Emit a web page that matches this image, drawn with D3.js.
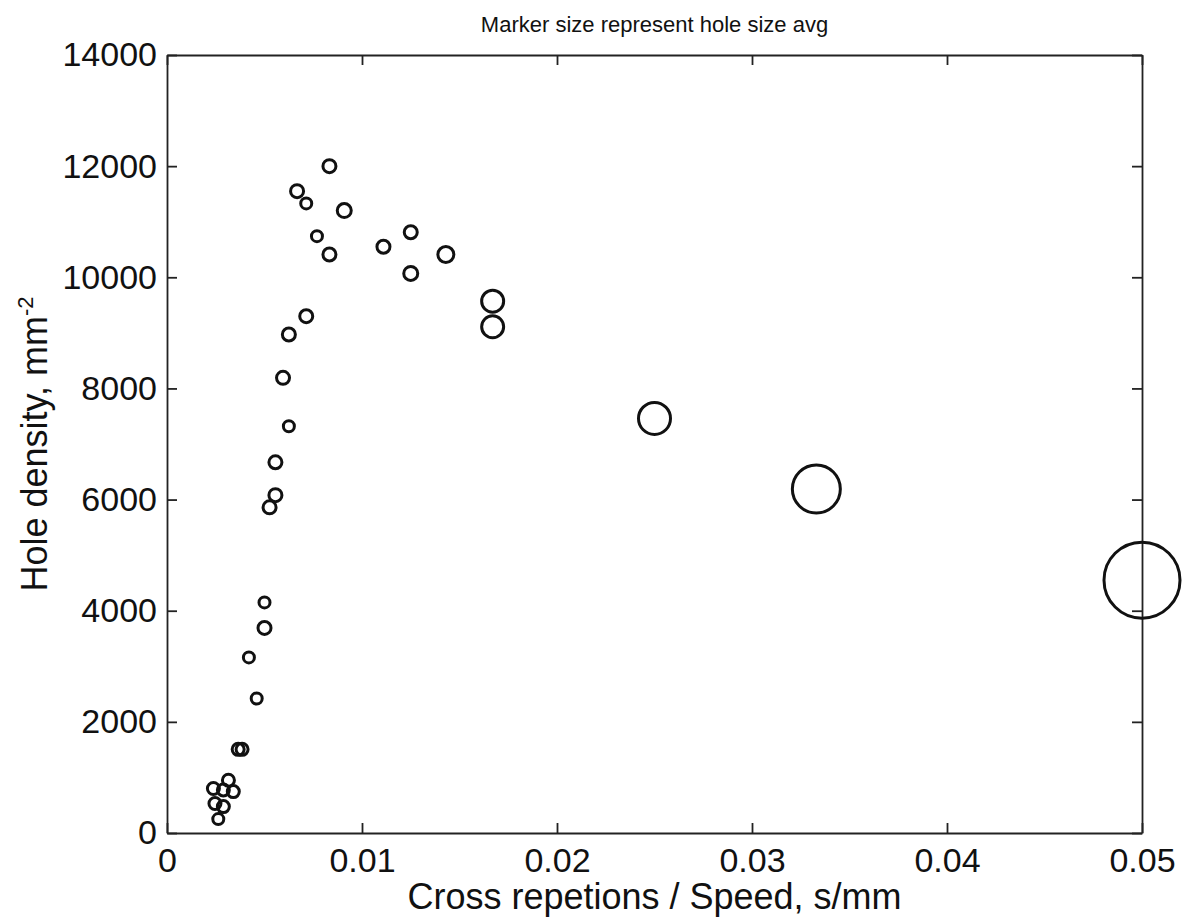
<!DOCTYPE html>
<html>

<head>
  <meta charset="utf8">
  <script src="https://d3js.org/d3.v7.min.js"></script>
  <style>
    body {
      margin: 0;
      background: #fff;
    }

    text {
      font-family: "Liberation Sans", Arial, sans-serif;
      fill: #111;
    }

    .axis path,
    .axis line {
      stroke: #222;
      stroke-width: 1.8;
    }

    .axis text {
      font-size: 34px;
    }

    .dot {
      fill: none;
      stroke: #111;
      stroke-width: 3;
    }
  </style>
</head>

<body>
  <svg id="chart" width="1185" height="919"></svg>
  <script>
    // values
    var crossPerSpeed = [
      0.00263, 0.00246, 0.00289, 0.00238, 0.00289, 0.0034, 0.00315, 0.00365, 0.00385,
      0.0046, 0.0042, 0.005, 0.005, 0.00526, 0.00556, 0.00556, 0.00625, 0.00595,
      0.00625, 0.00714, 0.00833, 0.00769, 0.00909, 0.00714, 0.00667, 0.00833,
      0.0111, 0.0125, 0.0125, 0.0143, 0.0167, 0.0167, 0.025, 0.0333, 0.05
    ];
    var holeDensity = [
      250, 530, 475, 800, 775, 745, 950, 1505, 1505,
      2420, 3160, 3690, 4150, 5860, 6080, 6670, 7320, 8190,
      8970, 9300, 10410, 10740, 11200, 11330, 11550, 12000,
      10550, 10810, 10070, 10410, 9570, 9110, 7460, 6190, 4550
    ];
    var holeSize = [
      11, 12, 12, 12, 12, 12, 12, 12, 12,
      11, 11, 13, 11, 13, 13, 13, 11, 13,
      13, 13, 13, 11, 14, 11, 13, 13,
      13, 13, 14, 16, 22, 22, 32, 48, 76
    ];
    var xTicks = [0, 0.01, 0.02, 0.03, 0.04, 0.05];
    var yTicks = [0, 2000, 4000, 6000, 8000, 10000, 12000, 14000];

    var chart = d3.select('#chart');
    var margin = { top: 55, right: 43, bottom: 86, left: 167 };
    var width = +chart.attr('width') - margin.left - margin.right;
    var height = +chart.attr('height') - margin.top - margin.bottom;

    var x = d3.scaleLinear().domain([0, 0.05]).range([0, width]);
    var y = d3.scaleLinear().domain([0, 14000]).range([height, 0]);
    var r = d3.scaleLinear().domain([0, 76]).range([0, 38]);

    var g = chart.append('g')
      .attr('transform', 'translate(' + margin.left + ',' + margin.top + ')');

    // box with inward ticks on all sides
    g.append('g')
      .attr('class', 'axis')
      .attr('transform', 'translate(0,' + height + ')')
      .call(d3.axisBottom(x).tickValues(xTicks).tickFormat(d3.format('')).tickSizeInner(-10).tickSizeOuter(0).tickPadding(15));

    g.append('g')
      .attr('class', 'axis')
      .call(d3.axisTop(x).tickValues(xTicks).tickFormat('').tickSizeInner(-10).tickSizeOuter(0));

    g.append('g')
      .attr('class', 'axis')
      .call(d3.axisLeft(y).tickValues(yTicks).tickFormat(d3.format('d')).tickSizeInner(-10).tickSizeOuter(0).tickPadding(10));

    g.append('g')
      .attr('class', 'axis')
      .attr('transform', 'translate(' + width + ',0)')
      .call(d3.axisRight(y).tickValues(yTicks).tickFormat('').tickSizeInner(-10).tickSizeOuter(0));

    g.selectAll('.axis text').attr('fill', '#111');
    g.selectAll('.axis path').attr('stroke', '#222');
    g.selectAll('.axis line').attr('stroke', '#222');

    g.selectAll('.dot')
      .data(crossPerSpeed.map((d, i) => ({ x: d, y: holeDensity[i], s: holeSize[i] })))
      .enter()
      .append('circle')
      .attr('class', 'dot')
      .attr('cx', (d) => x(d.x))
      .attr('cy', (d) => y(d.y))
      .attr('r', (d) => r(d.s));

    // labels
    chart.append('text')
      .attr('x', margin.left + width / 2)
      .attr('y', 32)
      .attr('text-anchor', 'middle')
      .style('font-size', '22px')
      .text('Marker size represent hole size avg');

    chart.append('text')
      .attr('x', margin.left + width / 2)
      .attr('y', 909)
      .attr('text-anchor', 'middle')
      .style('font-size', '36px')
      .text('Cross repetions / Speed, s/mm');

    var ylab = chart.append('text')
      .attr('transform', 'translate(47,' + (margin.top + height / 2) + ') rotate(-90)')
      .attr('text-anchor', 'middle')
      .style('font-size', '36px');
    ylab.append('tspan').text('Hole density, mm');
    ylab.append('tspan')
      .attr('dy', -14)
      .style('font-size', '22px')
      .text('-2');
  </script>
</body>

</html>
